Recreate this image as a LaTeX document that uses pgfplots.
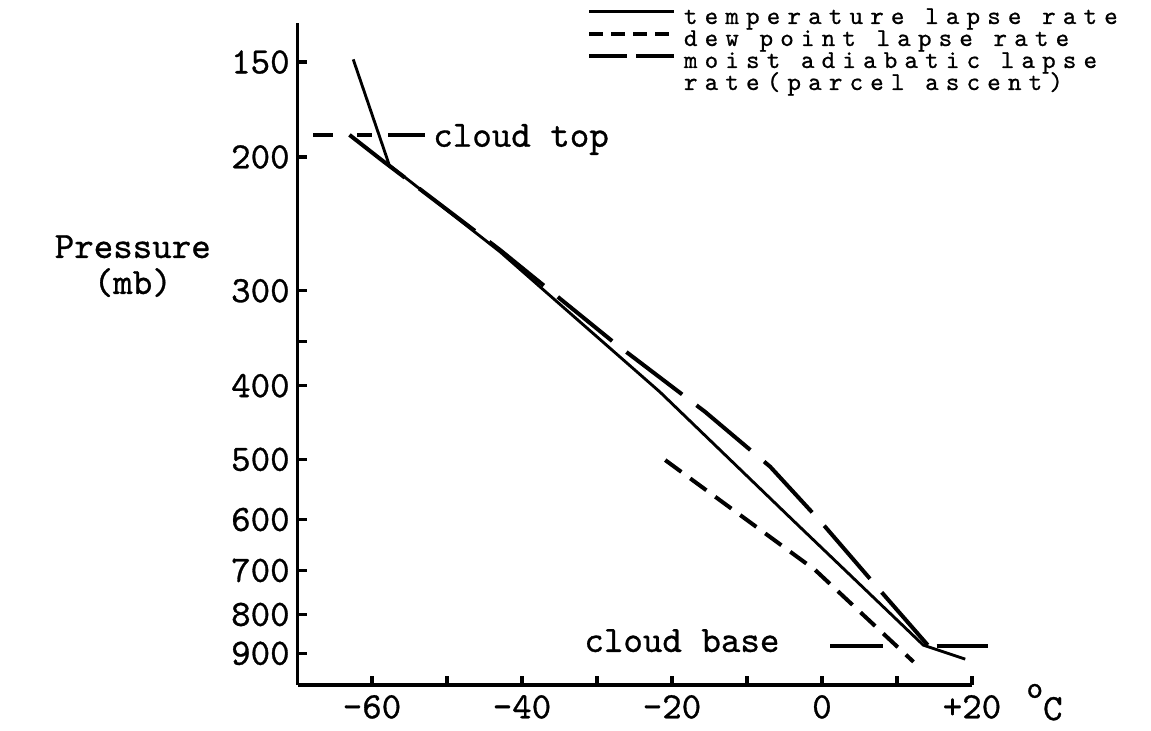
\documentclass[border=0pt]{standalone}
\usepackage{fontspec}
\usepackage{pgfplots}
\pgfplotsset{compat=1.18}
\newfontfamily\tw{lmmono10-regular.otf}[FakeBold=0.8]
\newfontfamily\legfont{lmmono10-regular.otf}[LetterSpace=28,FakeBold=0.8]
\newcommand\twtext{\tw\fontsize{13}{15}\selectfont}
\newcommand\legtext{\legfont\fontsize{9}{7.7}\selectfont}

\begin{document}
\begin{tikzpicture}
\begin{axis}[
    scale only axis, width=236pt, height=231.7pt,
    xmin=-69.9, xmax=20,
    ymode=log, ymin=133.3, ymax=990.7, y dir=reverse,
    axis x line*=bottom, axis y line*=left,
    axis line style={line width=1.1pt},
    tick align=inside, major tick length=3.2pt, minor tick length=3.2pt,
    tick style={black, line width=1.1pt},
    xtick={-60,-40,-20,0,20}, xticklabels={-60,-40,-20,0,+20},
    minor xtick={-50,-30,-10,10},
    ytick={150,200,300,400,500,600,700,800,900},
    yticklabels={150,200,300,400,500,600,700,800,900},
    minor ytick={350},
    /pgf/number format/assume math mode=true,
    tick label style={font=\twtext},
    yticklabel style={xshift=0.7pt},
    clip=false,
    legend image code/.code={\draw[#1] (0pt,2.3pt) -- (29.75pt,2.3pt);},
    legend cell align=left,
    legend style={draw=none, fill=none, at={(axis cs:-31.33,127.0)}, anchor=north west,
        inner sep=0pt, outer sep=0pt, row sep=0pt, column sep=2.8pt, font=\legtext,
        nodes={inner sep=0pt, text height=5.9pt, text depth=1.8pt}},
]

% temperature lapse rate
\addplot[forget plot, black, line width=1pt] coordinates {
    (-62.5,148.8) (-57.7,204.9) (-42.9,266.7) (-21.6,407.7)
    (-3.9,601) (13.5,877.7) (19.1,915.8)
};
% dew point lapse rate
\addplot[forget plot, black, line width=1.4pt, dash pattern=on 7pt off 3.85pt] coordinates {
    (-20.9,501.1) (-0.9,699.3) (12.2,923.4)
};
% moist adiabatic (parcel ascent), cloud base up to cloud top
\addplot[forget plot, black, line width=1.4pt, dash pattern=on 24.5pt off 6.3pt] coordinates {
    (14.1,877.7) (7.7,743) (0.0,606.5) (-6.9,511.3) (-15.6,432.8)
    (-27.6,351.8) (-42.9,265.2) (-58.7,201.9) (-64.3,182.8)
};
% cloud top marker
\addplot[forget plot, black, line width=1.3pt] coordinates {(-67.8,187.1) (-65.2,187.1)};
\addplot[forget plot, black, line width=1.3pt] coordinates {(-62.0,187.1) (-60.0,187.1)};
\addplot[forget plot, black, line width=1.3pt] coordinates {(-57.8,187.1) (-52.9,187.1)};
% cloud base marker
\addplot[forget plot, black, line width=1.3pt] coordinates {(1.1,880) (8.1,880)};
\addplot[forget plot, black, line width=1.3pt] coordinates {(15.3,880) (22.2,880)};

\addlegendimage{black, line width=1pt}
\addlegendentry{temperature lapse rate}
\addlegendimage{black, line width=1.4pt, dash pattern=on 4.9pt off 2.8pt}
\addlegendentry{dew point lapse rate}
\addlegendimage{black, line width=1.4pt, dash pattern=on 13.3pt off 3.15pt}
\addlegendentry{moist adiabatic lapse}
\addlegendimage{empty legend}
\addlegendentry{rate(parcel ascent)}

\node[font=\twtext, inner sep=0pt, anchor=base west] at (axis cs:-51.9,193.9) {cloud top};
\node[font=\twtext, inner sep=0pt, anchor=base east] at (axis cs:-5.6,896) {cloud base};
\node[font=\tw\fontsize{13}{12.6}\selectfont, inner sep=0pt, align=center, anchor=center]
    at (axis cs:-91.9,278.4) {Pressure\\(mb)};
\node[font=\twtext, inner sep=0pt, anchor=base west] at (axis cs:27.2,1101.6)
    {\raisebox{7.8pt}{\fontsize{11}{11}\selectfont o}C};

\path (axis cs:-109.6,124.3) rectangle (axis cs:43.87,1136);
\end{axis}
\end{tikzpicture}
\end{document}
